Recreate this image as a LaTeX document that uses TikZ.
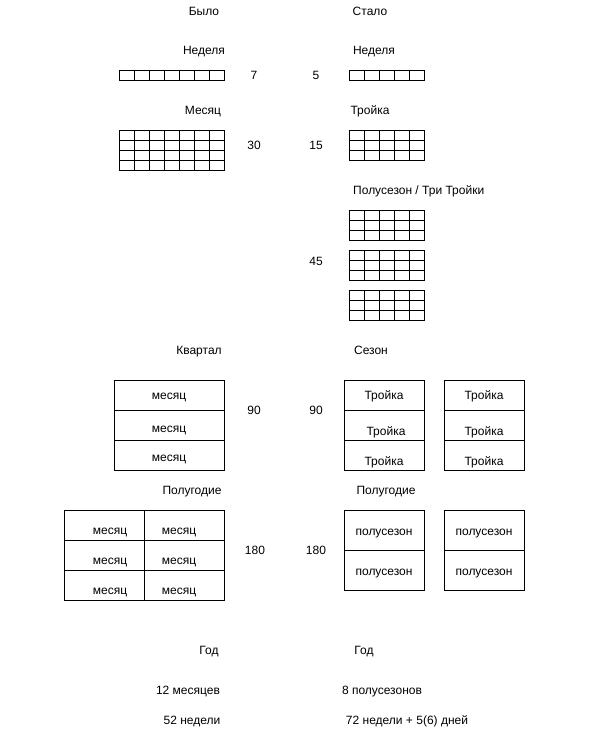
\documentclass[tikz,border=0pt]{standalone}
\usepackage{fontspec}
\setmainfont{Liberation Sans}
\begin{document}
\begin{tikzpicture}[x=1pt,y=-1pt,
  lbl/.style={inner sep=0pt,text height=8.5pt,text depth=0pt,font=\fontsize{12}{14}\selectfont},
  gline/.style={line width=1pt}]
\useasboundingbox (0,0) rectangle (591,731);
% headers
\node[lbl] (byl) at (204,11) {Было};
\node[lbl] (stalo) at (370,11) {Стало};
\node[lbl] (nedL) at (204,50) {Неделя};
\node[lbl] (nedR) at (374,50) {Неделя};
\node[lbl] (n7) at (254,75) {7};
\node[lbl] (n5) at (316,75) {5};
\node[lbl] (mesL) at (203,110) {Месяц};
\node[lbl] (troR) at (370,110) {Тройка};
\node[lbl] (n30) at (254,145) {30};
\node[lbl] (n15) at (316,145) {15};
\node[lbl,anchor=west] (polu) at (353,190) {Полусезон / Три Тройки};
\node[lbl] (n45) at (316,261) {45};
\node[lbl] (kv) at (199,350) {Квартал};
\node[lbl] (sez) at (371,350) {Сезон};
\node[lbl] (n90a) at (254,410) {90};
\node[lbl] (n90b) at (316,410) {90};
\node[lbl] (pgL) at (192,490) {Полугодие};
\node[lbl] (pgR) at (386,490) {Полугодие};
\node[lbl] (n180a) at (255,550) {180};
\node[lbl] (n180b) at (316,550) {180};
\node[lbl] (godL) at (209,650) {Год};
\node[lbl] (godR) at (364,650) {Год};
\node[lbl] (m12) at (188,690) {12 месяцев};
\node[lbl] (p8) at (382,690) {8 полусезонов};
\node[lbl] (w52) at (192,720) {52 недели};
\node[lbl] (w72) at (407,720) {72 недели + 5(6) дней};
% week grids
\draw[gline] (119,70) rectangle (224,80);
\foreach \i in {1,...,6} \draw[gline] (119+15*\i,70) -- (119+15*\i,80);
\draw[gline] (349,70) rectangle (424,80);
\foreach \i in {1,...,4} \draw[gline] (349+15*\i,70) -- (349+15*\i,80);
% month grid
\draw[gline] (119,130) rectangle (224,170);
\foreach \i in {1,...,6} \draw[gline] (119+15*\i,130) -- (119+15*\i,170);
\foreach \j in {1,2,3} \draw[gline] (119,130+10*\j) -- (224,130+10*\j);
% troika grids
\foreach \y in {130,210,250,290}{
  \draw[gline] (349,\y) rectangle (424,\y+30);
  \foreach \i in {1,...,4} \draw[gline] (349+15*\i,\y) -- (349+15*\i,\y+30);
  \foreach \j in {1,2} \draw[gline] (349,\y+10*\j) -- (424,\y+10*\j);
}
% quarter
\draw[gline] (114,380) rectangle (224,470);
\draw[gline] (114,410) -- (224,410);
\draw[gline] (114,440) -- (224,440);
\node[lbl] (q1) at (169,395) {месяц};
\node[lbl] (q2) at (169,428) {месяц};
\node[lbl] (q3) at (169,457) {месяц};
% season
\foreach \x in {344,444}{
  \draw[gline] (\x,380) rectangle (\x+80,470);
  \draw[gline] (\x,410) -- (\x+80,410);
  \draw[gline] (\x,440) -- (\x+80,440);
}
\node[lbl] (s1) at (384,395) {Тройка};
\node[lbl] (s2) at (386,431) {Тройка};
\node[lbl] (s3) at (384,461) {Тройка};
\node[lbl] (s4) at (484,395) {Тройка};
\node[lbl] (s5) at (484,431) {Тройка};
\node[lbl] (s6) at (484,461) {Тройка};
% half-year left
\draw[gline] (64,510) rectangle (224,600);
\draw[gline] (144,510) -- (144,600);
\draw[gline] (64,540) -- (224,540);
\draw[gline] (64,570) -- (224,570);
\foreach \y [count=\k] in {530,560,590}{
  \node[lbl] (hl\k) at (110,\y) {месяц};
  \node[lbl] (hr\k) at (179,\y) {месяц};
}
% half-year right
\foreach \x in {344,444}{
  \draw[gline] (\x,510) rectangle (\x+80,590);
  \draw[gline] (\x,550) -- (\x+80,550);
}
\node[lbl] (ps1) at (384,531) {полусезон};
\node[lbl] (ps2) at (384,571) {полусезон};
\node[lbl] (ps3) at (484,531) {полусезон};
\node[lbl] (ps4) at (484,571) {полусезон};
\end{tikzpicture}
\end{document}
